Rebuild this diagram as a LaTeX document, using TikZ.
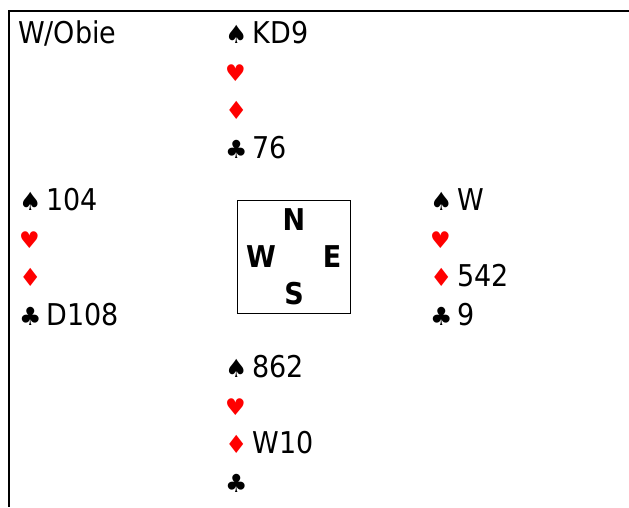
\documentclass[tikz,border=0pt]{standalone}
\usepackage{fontspec}
\setmainfont{DejaVu Sans Condensed}
\newfontfamily\suitfont{DejaVu Sans}
\usetikzlibrary{positioning}

\newcommand{\spd}{{\suitfont\fontsize{25}{30}\selectfont ♠}}
\newcommand{\hrt}{{\suitfont\fontsize{23}{30}\selectfont\color{red}♥}}
\newcommand{\dmd}{{\suitfont\fontsize{25}{30}\selectfont\color{red}♦}}
\newcommand{\clb}{{\suitfont\fontsize{25}{30}\selectfont ♣}}
\newcommand{\gap}{\hspace{5pt}}

% one hand: name, x, y of first baseline, then the four suits
\newcommand{\hand}[7]{
  \node[card] (#1S) at (#2,#3) {\spd\gap #4};
  \node[card] (#1H) at (#2,#3+38.4) {\hrt\gap #5};
  \node[card] (#1D) at (#2,#3+76.8) {\dmd\gap #6};
  \node[card] (#1C) at (#2,#3+115.2) {\clb\gap #7};
}

\tikzset{
  card/.style={inner sep=0pt, anchor=base west, font=\fontsize{30}{36}\selectfont},
  compass/.style={inner sep=0pt, font=\fontsize{30}{36}\selectfont\bfseries},
  table/.style={draw, line width=1.7pt, minimum size=113pt, inner sep=0pt},
}

\begin{document}
\begin{tikzpicture}[x=1pt, y=-1pt]
  \useasboundingbox (0,0) rectangle (629,507);
  \draw[line width=2pt] (629,11) -- (9,11) -- (9,507);

  \node[card] (title) at (18,43) {W/Obie};

  \hand{north}{225}{43}{KD9}{}{}{76}
  \hand{west}{19}{210}{104}{}{}{D108}
  \hand{east}{430}{210}{W}{}{542}{9}
  \hand{south}{225}{377}{862}{}{W10}{}

  \node[table] (tbl) at (294,257) {};
  \node[compass] (N) at (294,220) {N};
  \node[compass] (W) at (261,257) {W};
  \node[compass] (E) at (332,257) {E};
  \node[compass] (S) at (294,294) {S};
\end{tikzpicture}
\end{document}
